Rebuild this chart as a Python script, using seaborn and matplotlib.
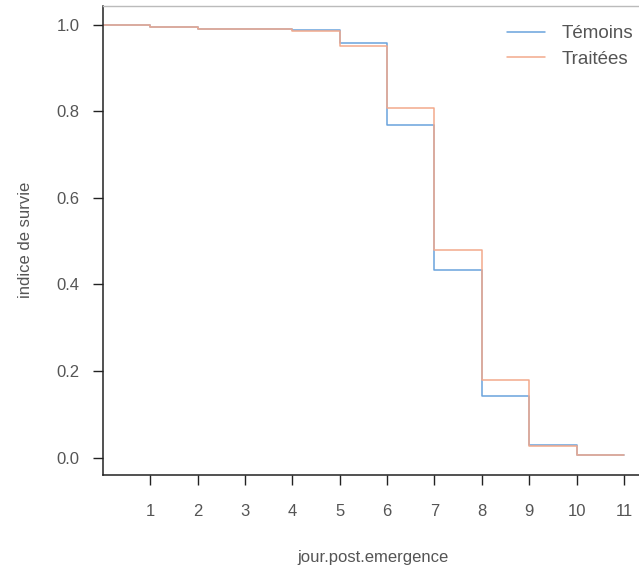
import pandas as pd
import numpy as np
import matplotlib
matplotlib.use('Agg')
import matplotlib.pyplot as plt
import seaborn as sns

# jours post emergence et indices de survie
jours = [0, 1, 2, 3, 4, 5, 6, 7, 8, 9, 10, 11]
temoins = [1.0, 0.995, 0.99, 0.99, 0.987, 0.958, 0.768, 0.434, 0.142, 0.030, 0.005, 0.005]
traitees = [1.0, 0.995, 0.99, 0.99, 0.986, 0.951, 0.807, 0.480, 0.180, 0.026, 0.005, 0.005]
groupes = ['Témoins', 'Traitées']
couleurs = ['#6aa3dc', '#f2a98c']

df = pd.concat([
    pd.DataFrame({'jour': jours, 'survie': temoins, 'groupe': groupes[0]}),
    pd.DataFrame({'jour': jours, 'survie': traitees, 'groupe': groupes[1]}),
])

sns.set_style('white')
plt.rcParams['font.family'] = ['Liberation Sans', 'DejaVu Sans']

fig = plt.figure(figsize=(6.39, 5.75), dpi=100)
ax = fig.add_axes([0.161, 0.174, 0.845, 0.816])

sns.lineplot(data=df, x='jour', y='survie', hue='groupe', palette=couleurs,
             estimator=None, drawstyle='steps-post', linewidth=1.1, ax=ax)

ax.set_xlim(0, 11.4)
ax.set_ylim(-0.04, 1.044)
ax.set_xticks(range(1, 12))
ax.set_yticks([0.0, 0.2, 0.4, 0.6, 0.8, 1.0])
ax.set_yticklabels(['0.0', '0.2', '0.4', '0.6', '0.8', '1.0'])
ax.tick_params(axis='both', direction='out', length=7, width=1, color='#222',
               labelsize=12, labelcolor='#555', left=True, bottom=True)
ax.tick_params(axis='x', pad=14)
ax.tick_params(axis='y', pad=10)

for s in ['left', 'bottom']:
    ax.spines[s].set_color('#222')
    ax.spines[s].set_linewidth(1.1)
for s in ['top', 'right']:
    ax.spines[s].set_color('#bbbbbb')
    ax.spines[s].set_linewidth(1)

ax.set_xlabel('jour.post.emergence', fontsize=12, color='#555', labelpad=22)
ax.set_ylabel('indice de survie', fontsize=12, color='#555', labelpad=17)

leg = ax.legend(title=None, frameon=False, loc='upper left',
                bbox_to_anchor=(0.718, 0.995), fontsize=13.5, handlelength=2.0,
                handletextpad=0.9, labelspacing=0.45)
for t in leg.get_texts():
    t.set_color('#555')

plt.savefig('out.png', dpi=100)
